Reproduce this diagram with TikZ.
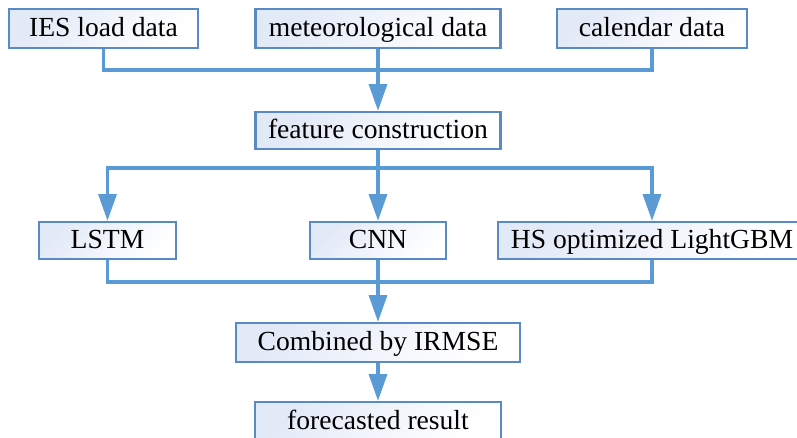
\documentclass[tikz,border=0pt]{standalone}
\usepackage{fontspec}
\setmainfont{Liberation Serif}
\usetikzlibrary{arrows.meta}
\definecolor{linec}{HTML}{5B9BD5}
\definecolor{boxline}{HTML}{5A8AC6}
\definecolor{boxfill}{HTML}{E2E9F7}
\begin{document}
\begin{tikzpicture}[x=0.75pt,y=-0.75pt,
  box/.style={draw=boxline, line width=1.8pt,
    top color=boxfill, bottom color=white, shading angle=45,
    inner sep=0pt, font=\rmfamily\fontsize{20.7pt}{24pt}\selectfont,
    text height=15pt, text depth=2.7pt, minimum height=29.25pt},
  conn/.style={draw=linec, line width=2.4pt},
  arr/.style={conn, -{Triangle[width=13.5pt,length=20pt]}}]
\useasboundingbox (0,0) rectangle (797,438);
\clip (0,0) rectangle (797,438);
% input boxes
\node[box, minimum width=141.75pt] (ies) at (103.5,28.5) {IES load data};
\node[box, minimum width=183.75pt] (met) at (378,28.5) {meteorological data};
\node[box, minimum width=142.5pt] (cal) at (652,28.5) {calendar data};
% feature
\node[box, minimum width=183.75pt, minimum height=27.75pt] (feat) at (378,130.5) {feature construction};
% models
\node[box, minimum width=102.75pt, minimum height=27.75pt] (lstm) at (107.5,240.5) {LSTM};
\node[box, minimum width=102pt, minimum height=27.75pt] (cnn) at (378,240.5) {CNN};
\node[box, minimum width=231pt, minimum height=27.75pt] (hs) at (652,240.5) {HS optimized LightGBM};
% combination
\node[box, minimum width=213pt] (comb) at (378,342.5) {Combined by IRMSE};
\node[box, minimum width=184.5pt] (fore) at (378,421.5) {forecasted result};
% connectors
\coordinate (j1) at (378,70);
\draw[conn] (ies.south) |- (j1) -| (cal.south);
\draw[arr] (met.south) -- (feat.north);
\coordinate (j2) at (378,168);
\draw[conn] (feat.south) -- (j2);
\draw[arr] (j2) -| (lstm.north);
\draw[arr] (j2) -| (hs.north);
\draw[arr] (j2) -- (cnn.north);
\coordinate (j3) at (378,282);
\draw[conn] (lstm.south) |- (j3) -| (hs.south);
\draw[conn] (cnn.south) -- (j3);
\draw[arr] (j3) -- (comb.north);
\draw[arr] (comb.south) -- (fore.north);
\end{tikzpicture}
\end{document}
